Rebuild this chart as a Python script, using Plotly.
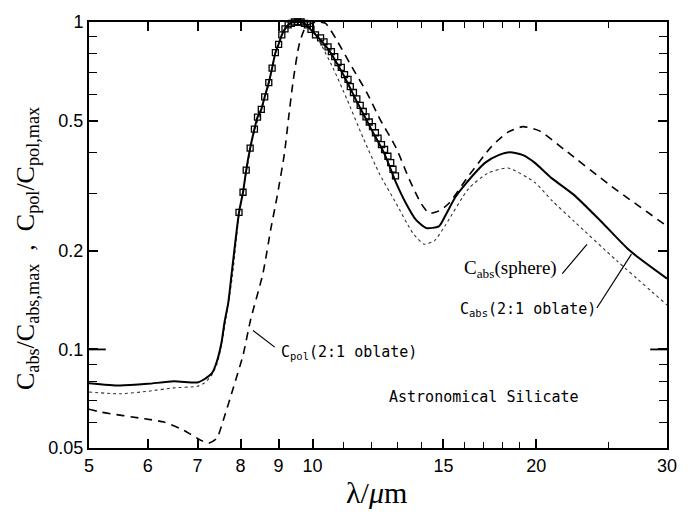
import math
import plotly.graph_objects as go

# ---------------- data ----------------
sol_x = [5.0, 5.5, 6.0, 6.5, 7.0, 7.13, 7.32, 7.43, 7.54, 7.61, 7.7, 7.78, 7.96, 8.06, 8.14, 8.24,
         8.35, 8.43, 8.53, 8.62, 8.73, 8.82, 8.91, 9.0, 9.09, 9.18, 9.27, 9.36, 9.46, 9.6, 9.75,
         10.0, 10.25, 10.5, 11.0, 11.5, 12.0, 12.5, 12.96, 13.36, 13.77, 14.21, 14.79, 15.1, 15.57,
         16.06, 17.08, 17.8, 18.43, 19.2, 19.9, 21.0, 22.5, 24.5, 26.75, 30.0]
sol_y = [0.0789, 0.0776, 0.0785, 0.0799, 0.0793, 0.0808, 0.0846, 0.0917, 0.105, 0.121, 0.139, 0.170,
         0.262, 0.302, 0.353, 0.412, 0.471, 0.512, 0.541, 0.591, 0.653, 0.723, 0.806, 0.855, 0.914,
         0.953, 0.98, 0.995, 1.0, 1.0, 0.99, 0.935, 0.88, 0.825, 0.69, 0.565, 0.47, 0.395, 0.322,
         0.279, 0.249, 0.235, 0.2376, 0.257, 0.292, 0.320, 0.372, 0.392, 0.400, 0.392, 0.372, 0.333,
         0.296, 0.245, 0.200, 0.1646]

dot_x = [5.0, 5.5, 6.0, 6.5, 7.0, 7.15, 7.3, 7.43, 7.54, 7.62, 7.7, 7.8, 7.96, 8.14, 8.35, 8.53,
         8.73, 8.91, 9.09, 9.27, 9.45, 9.62, 9.8, 10.0, 10.25, 10.68, 11.12, 11.7, 12.31, 12.96,
         13.64, 14.13, 14.6, 15.1, 16.22, 17.2, 18.33, 19.9, 21.0, 22.5, 25.67, 30.0]
dot_y = [0.0741, 0.0732, 0.0745, 0.0763, 0.0772, 0.079, 0.083, 0.090, 0.103, 0.119, 0.138, 0.168,
         0.257, 0.348, 0.466, 0.538, 0.648, 0.80, 0.91, 0.975, 0.998, 1.0, 0.985, 0.935, 0.86,
         0.715, 0.582, 0.442, 0.343, 0.279, 0.227, 0.2096, 0.215, 0.240, 0.310, 0.345, 0.358,
         0.324, 0.285, 0.246, 0.1867, 0.1367]

dash_x = [5.0, 5.2, 5.94, 6.31, 6.71, 7.06, 7.24, 7.43, 7.58, 7.82, 8.06, 8.25, 8.57, 8.79, 8.95,
          9.16, 9.28, 9.42, 9.6, 9.8, 10.1, 10.41, 10.78, 11.35, 11.83, 12.31, 12.96, 13.5, 14.0,
          14.35, 14.8, 15.25, 16.22, 17.42, 18.3, 19.19, 20.2, 21.81, 25.16, 30.0]
dash_y = [0.0657, 0.0643, 0.0614, 0.060, 0.0566, 0.0529, 0.0517, 0.0535, 0.0607, 0.0763, 0.096,
          0.123, 0.170, 0.235, 0.29, 0.394, 0.507, 0.667, 0.86, 0.97, 1.0, 0.99, 0.879, 0.715,
          0.609, 0.507, 0.412, 0.33, 0.279, 0.2606, 0.265, 0.279, 0.339, 0.417, 0.46, 0.479,
          0.465, 0.408, 0.317, 0.238]

sq_x = [7.96, 8.06, 8.14, 8.24, 8.35, 8.43, 8.53, 8.62, 8.73, 8.82, 8.91, 9.0, 9.09, 9.18, 9.27,
        9.36, 9.45, 9.55, 9.65, 9.75, 9.84, 9.95, 10.09, 10.25, 10.36, 10.49, 10.6, 10.71, 10.82,
        10.93, 11.04, 11.16, 11.24, 11.35, 11.47, 11.59, 11.7, 11.8, 11.92, 12.04, 12.15, 12.25,
        12.38, 12.5, 12.63, 12.74, 12.83, 12.93]
sq_y = [0.262, 0.302, 0.353, 0.412, 0.471, 0.512, 0.541, 0.591, 0.653, 0.723, 0.806, 0.855, 0.914,
        0.953, 0.98, 0.99, 1.0, 1.0, 1.0, 0.99, 0.98, 0.95, 0.914, 0.894, 0.870, 0.840, 0.812,
        0.784, 0.752, 0.727, 0.691, 0.668, 0.635, 0.609, 0.582, 0.556, 0.533, 0.513, 0.495,
        0.479, 0.459, 0.442, 0.422, 0.408, 0.389, 0.372, 0.355, 0.339]

x_ticks = [5, 6, 7, 8, 9, 10, 15, 20, 30]
x_minor = [11, 12, 13, 14, 16, 17, 18, 19, 25]
y_ticks = [0.05, 0.1, 0.2, 0.5, 1]
y_ticklabels = ["0.05", "0.1", "0.2", "0.5", "1"]
y_minor = [0.06, 0.07, 0.08, 0.09, 0.3, 0.4, 0.6, 0.7, 0.8, 0.9]

# ---------------- layout geometry ----------------
W, H = 689, 513
L, R, T, B = 89, 15, 13, 65
PW, PH = W - L - R, H - T - B


def P(px, py):
    """pixel -> paper coordinates"""
    return (px - L) / PW, (H - B - py) / PH


fig = go.Figure()
fig.add_trace(go.Scatter(x=dash_x, y=dash_y, mode="lines", line_shape="spline",
                         line=dict(color="black", width=1.6, dash="8px,6px", smoothing=0.6),
                         cliponaxis=False))
fig.add_trace(go.Scatter(x=dot_x, y=dot_y, mode="lines", line_shape="spline",
                         line=dict(color="#333", width=1.1, dash="dot", smoothing=0.6),
                         cliponaxis=False))
fig.add_trace(go.Scatter(x=sol_x, y=sol_y, mode="lines", line_shape="spline",
                         line=dict(color="black", width=2, smoothing=0.6), cliponaxis=False))
fig.add_trace(go.Scatter(x=sq_x, y=sq_y, mode="markers",
                         marker=dict(symbol="square-open", size=6, color="black",
                                     line=dict(width=1.3, color="black")), cliponaxis=False))

shapes = []
# leader lines
for (a, b) in [((568, 270), (593, 240)), ((603, 305), (638, 250)), ((277, 345), (255, 328))]:
    x0, y0 = P(*a)
    x1, y1 = P(*b)
    shapes.append(dict(type="line", xref="paper", yref="paper", x0=x0, y0=y0, x1=x1, y1=y1,
                       line=dict(color="black", width=1.2)))
# long ticks at the 0.1 decade
yp01 = (math.log10(0.1) - math.log10(0.05)) / (0 - math.log10(0.05))
shapes.append(dict(type="line", xref="paper", yref="paper", x0=0, x1=17 / PW, y0=yp01, y1=yp01,
                   line=dict(color="black", width=1.8)))
shapes.append(dict(type="line", xref="paper", yref="paper", x0=1 - 17 / PW, x1=1, y0=yp01, y1=yp01,
                   line=dict(color="black", width=1.8)))

ann = []
mono = dict(family="DejaVu Sans Mono", size=15, color="black")


def add_text(text, px, py, font, angle=0):
    x0, y0 = P(px, py)
    ann.append(dict(text=text, x=x0, y=y0, xref="paper", yref="paper", xanchor="center",
                    yanchor="middle", showarrow=False, textangle=angle, font=font))


add_text("C<sub>abs</sub>(sphere)", 516, 265,
         dict(family="Liberation Serif", size=19, color="black"))
add_text("C<sub>abs</sub>(2:1 oblate)", 533, 307, mono)
add_text("C<sub>pol</sub>(2:1 oblate)", 352, 350, mono)
add_text("Astronomical Silicate", 489, 396, mono)
# axis titles
add_text("C<sub>abs</sub>/C<sub>abs,max</sub>  ,  C<sub>pol</sub>/C<sub>pol,max</sub>", 26, 244,
         dict(family="Liberation Serif", size=26, color="black"), angle=-90)
add_text("λ/<i>μ</i>m", 380, 493, dict(family="Liberation Serif", size=30, color="black"))

tickfont = dict(family="Liberation Sans", size=18, color="black")
fig.update_layout(
    width=W, height=H, margin=dict(l=L, r=R, t=T, b=B),
    paper_bgcolor="white", plot_bgcolor="white", showlegend=False,
    shapes=shapes, annotations=ann,
    xaxis=dict(type="log", range=[math.log10(5), math.log10(30)],
               tickmode="array", tickvals=x_ticks, ticktext=[str(v) for v in x_ticks],
               ticks="inside", ticklen=9, tickwidth=1.6, tickcolor="black",
               minor=dict(tickmode="array", tickvals=x_minor, ticks="inside", ticklen=6,
                          tickwidth=1.4, tickcolor="black", showgrid=False),
               showline=True, linewidth=2, linecolor="black", mirror="ticks",
               showgrid=False, zeroline=False, tickfont=tickfont),
    yaxis=dict(type="log", range=[math.log10(0.05), 0],
               tickmode="array", tickvals=y_ticks, ticktext=y_ticklabels,
               ticks="inside", ticklen=9, tickwidth=1.6, tickcolor="black",
               minor=dict(tickmode="array", tickvals=y_minor, ticks="inside", ticklen=8,
                          tickwidth=1.4, tickcolor="black", showgrid=False),
               showline=True, linewidth=2, linecolor="black", mirror="ticks",
               showgrid=False, zeroline=False, tickfont=tickfont),
)

fig.write_html("out.html")
